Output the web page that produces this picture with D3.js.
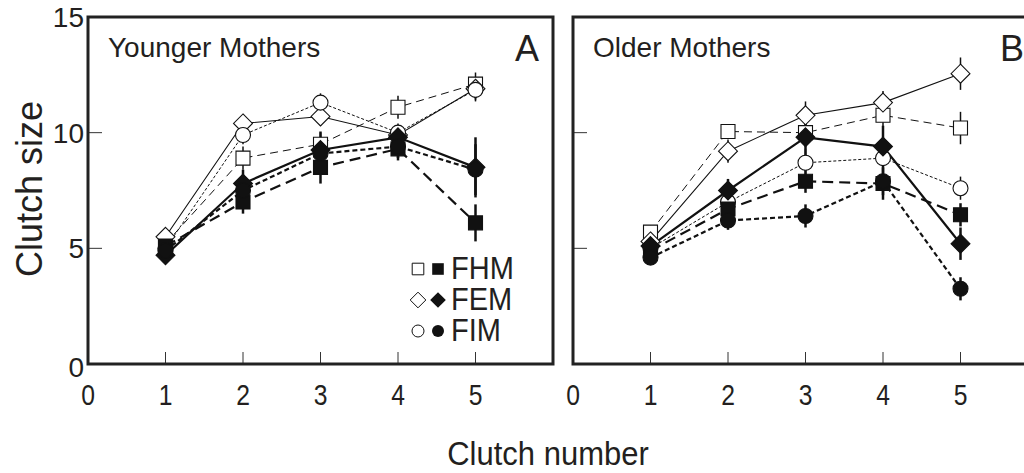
<!DOCTYPE html>
<meta charset="utf-8">
<title>Clutch size by clutch number</title>
<style>

body {
  margin: 0;
  background-color: white;
}

text {
  font-family: "Liberation Sans", Arial, sans-serif;
  fill: #231f20;
}

</style>
<body>
<script src="https://cdn.jsdelivr.net/npm/d3@7"></script>
<script>

var clutches = [1, 2, 3, 4, 5],
    xTicks = [0, 1, 2, 3, 4, 5],
    yTicks = [0, 5, 10, 15];

// younger mothers (panel A)
var youngFHMopen = [5.2, 8.9, 9.5, 11.1, 12.1],
    youngFHMfill = [5.1, 7.0, 8.5, 9.3, 6.1],
    youngFEMopen = [5.5, 10.4, 10.7, 9.9, 11.9],
    youngFEMfill = [4.7, 7.8, 9.25, 9.8, 8.5],
    youngFIMopen = [5.0, 9.9, 11.3, 10.0, 11.85],
    youngFIMfill = [4.9, 7.5, 9.1, 9.4, 8.4];

var youngFHMopenErr = [0.2, 0.5, 0.5, 0.5, 0.5],
    youngFHMfillErr = [0.3, 0.5, 0.7, 0.5, 0.8],
    youngFEMopenErr = [0.2, 0.3, 0.4, 0.4, 0.5],
    youngFEMfillErr = [0.3, 0.6, 0.8, 0.5, 1.3],
    youngFIMopenErr = [0.2, 0.4, 0.4, 0.4, 0.5],
    youngFIMfillErr = [0.3, 0.5, 0.6, 0.5, 1.1];

// older mothers (panel B)
var oldFHMopen = [5.7, 10.05, 10.0, 10.75, 10.2],
    oldFHMfill = [4.9, 6.7, 7.9, 7.8, 6.45],
    oldFEMopen = [5.3, 9.2, 10.75, 11.3, 12.55],
    oldFEMfill = [5.1, 7.5, 9.8, 9.4, 5.2],
    oldFIMopen = [5.0, 7.0, 8.7, 8.9, 7.6],
    oldFIMfill = [4.6, 6.2, 6.4, 7.9, 3.25];

var oldFHMopenErr = [0.3, 0.3, 0.4, 0.6, 0.7],
    oldFHMfillErr = [0.3, 0.5, 0.5, 0.7, 0.5],
    oldFEMopenErr = [0.3, 0.5, 0.6, 0.5, 0.7],
    oldFEMfillErr = [0.3, 0.5, 0.8, 0.9, 0.7],
    oldFIMopenErr = [0.3, 0.4, 0.6, 0.5, 0.5],
    oldFIMfillErr = [0.3, 0.4, 0.5, 0.6, 0.5];

var groups = ["FHM", "FEM", "FIM"],
    shapes = {FHM: "square", FEM: "diamond", FIM: "circle"};

var width = 1024,
    height = 473;

var svg = d3.select("body").append("svg")
    .attr("width", width)
    .attr("height", height);

var y = d3.scaleLinear().domain([0, 15]).range([364, 17]);

function shapePath(shape, s) {
  if (shape == "square") return "M" + -s + "," + -s + "H" + s + "V" + s + "H" + -s + "Z";
  if (shape == "diamond") { var d = s * 1.35; return "M0," + -d + "L" + d + ",0L0," + d + "L" + -d + ",0Z"; }
  return "M" + s + ",0A" + s + "," + s + " 0 1,1 " + -s + ",0A" + s + "," + s + " 0 1,1 " + s + ",0Z";
}

// line style per series: open = thin, filled = thick
var styles = {
  FHMopen: {w: 1, dash: "8,5"},
  FHMfill: {w: 2.2, dash: "11,6"},
  FEMopen: {w: 1.1, dash: null},
  FEMfill: {w: 2.2, dash: null},
  FIMopen: {w: 1, dash: "3,2"},
  FIMfill: {w: 2.2, dash: "5,3"}
};

function panel(x0, label, letter, series, showY) {
  var x = d3.scaleLinear().domain([0, 6]).range([x0, x0 + 465]);
  var g = svg.append("g");

  // inward ticks
  g.selectAll(".xt").data(clutches).enter().append("line")
      .attr("x1", x).attr("x2", x)
      .attr("y1", y(0)).attr("y2", y(0) - 12)
      .attr("stroke", "#333").attr("stroke-width", 1);
  g.selectAll(".yt").data([5, 10]).enter().append("line")
      .attr("x1", x0).attr("x2", x0 + 14)
      .attr("y1", y).attr("y2", y)
      .attr("stroke", "#333").attr("stroke-width", 1);

  g.append("rect")
      .attr("x", x0).attr("y", y(15))
      .attr("width", x(6) - x0).attr("height", y(0) - y(15))
      .attr("fill", "none").attr("stroke", "#222").attr("stroke-width", 3);

  g.selectAll(".xl").data(xTicks).enter().append("text")
      .attr("transform", function(d) { return "translate(" + x(d) + ",405)scale(0.95,1.15)"; })
      .attr("text-anchor", "middle")
      .style("font-size", "26px")
      .text(function(d) { return d; });

  if (showY) {
    g.selectAll(".yl").data(yTicks).enter().append("text")
        .attr("x", x0 - 4).attr("y", function(d) { return y(d) + (d == 0 ? 13 : 10); })
        .attr("text-anchor", "end")
        .style("font-size", "28px")
        .text(function(d) { return d; });
  }

  g.append("text").attr("x", x0 + 20).attr("y", y(15) + 40)
      .style("font-size", "28px").text(label);
  g.append("text").attr("x", x0 + 427).attr("y", y(15) + 44)
      .style("font-size", "36px").text(letter);

  var line = d3.line().x(function(d) { return x(d.c); }).y(function(d) { return y(d.v); });

  // lines
  series.forEach(function(s) {
    var st = styles[s.key];
    g.append("path")
        .datum(s.pts)
        .attr("d", line)
        .attr("fill", "none")
        .attr("stroke", "#111")
        .attr("stroke-width", st.w)
        .attr("stroke-dasharray", st.dash);
  });

  // error bars
  series.forEach(function(s) {
    g.selectAll(null).data(s.pts).enter().append("line")
        .attr("x1", function(d) { return x(d.c); })
        .attr("x2", function(d) { return x(d.c); })
        .attr("y1", function(d) { return y(d.v - d.e); })
        .attr("y2", function(d) { return y(d.v + d.e); })
        .attr("stroke", "#111")
        .attr("stroke-width", s.filled ? 2.5 : 1.5);
  });

  // markers, open ones first
  series.slice().sort(function(a, b) { return a.filled - b.filled; }).forEach(function(s) {
    g.selectAll(null).data(s.pts).enter().append("path")
        .attr("transform", function(d) { return "translate(" + x(d.c) + "," + y(d.v) + ")"; })
        .attr("d", shapePath(s.shape, s.shape == "circle" ? 7.5 : 7))
        .attr("fill", s.filled ? "#111" : "white")
        .attr("stroke", "#111")
        .attr("stroke-width", 1.1);
  });

  return x;
}

function build(vals, errs) {
  var out = [];
  groups.forEach(function(gr) {
    ["open", "fill"].forEach(function(k) {
      var v = vals[gr + k], e = errs[gr + k];
      out.push({
        key: gr + k,
        shape: shapes[gr],
        filled: k == "fill",
        pts: clutches.map(function(c, i) { return {c: c, v: v[i], e: e[i]}; })
      });
    });
  });
  return out;
}

var young = build(
  {FHMopen: youngFHMopen, FHMfill: youngFHMfill, FEMopen: youngFEMopen, FEMfill: youngFEMfill, FIMopen: youngFIMopen, FIMfill: youngFIMfill},
  {FHMopen: youngFHMopenErr, FHMfill: youngFHMfillErr, FEMopen: youngFEMopenErr, FEMfill: youngFEMfillErr, FIMopen: youngFIMopenErr, FIMfill: youngFIMfillErr});
var old = build(
  {FHMopen: oldFHMopen, FHMfill: oldFHMfill, FEMopen: oldFEMopen, FEMfill: oldFEMfill, FIMopen: oldFIMopen, FIMfill: oldFIMfill},
  {FHMopen: oldFHMopenErr, FHMfill: oldFHMfillErr, FEMopen: oldFEMopenErr, FEMfill: oldFEMfillErr, FIMopen: oldFIMopenErr, FIMfill: oldFIMfillErr});

panel(88, "Younger Mothers", "A", young, true);
panel(573, "Older Mothers", "B", old, false);

// legend in panel A
var legend = svg.append("g").selectAll("g")
    .data(groups)
  .enter().append("g")
    .attr("transform", function(d, i) { return "translate(418," + (269 + i * 31) + ")"; });

legend.append("path")
    .attr("d", function(d) { return shapePath(shapes[d], d == "FIM" ? 6 : 5.8); })
    .attr("fill", "white").attr("stroke", "#111").attr("stroke-width", 1);
legend.append("path")
    .attr("transform", "translate(20,0)")
    .attr("d", function(d) { return shapePath(shapes[d], d == "FIM" ? 6 : 5.8); })
    .attr("fill", "#111");
legend.append("text")
    .attr("transform", "translate(33,10)scale(1,1.08)")
    .style("font-size", "29px")
    .text(function(d) { return d; });

svg.append("text")
    .attr("transform", "translate(548,465)scale(1,1.1)")
    .attr("text-anchor", "middle")
    .style("font-size", "31px")
    .text("Clutch number");

svg.append("text")
    .attr("transform", "translate(42,189)rotate(-90)")
    .attr("text-anchor", "middle")
    .style("font-size", "36px")
    .text("Clutch size");

</script>
